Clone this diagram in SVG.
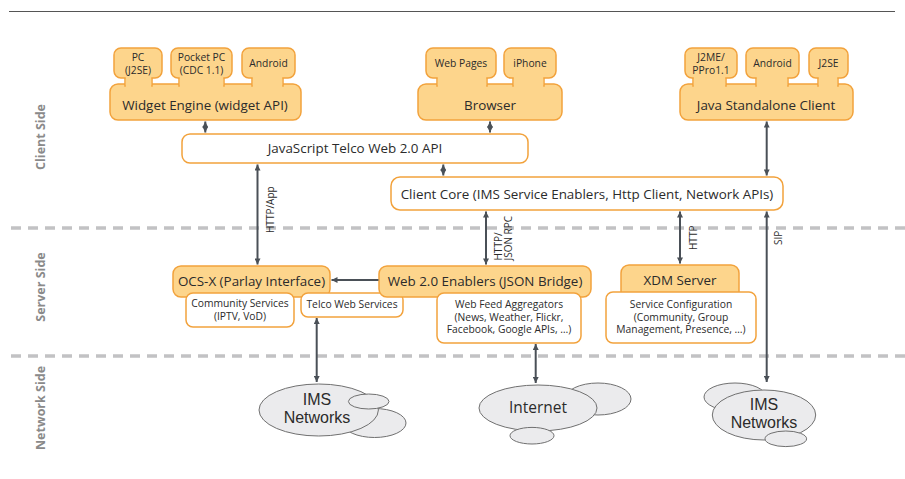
<svg xmlns="http://www.w3.org/2000/svg" width="905" height="479" viewBox="0 0 905 479">
<defs>
<style>
.o{fill:#fdd58c;stroke:#f2a23c;stroke-width:1.5}
.w{fill:#fff;stroke:#f2a23c;stroke-width:1.5}
.cov{fill:#fdd58c;stroke:none}
.c{fill:#ebebed;stroke:#707070;stroke-width:1}
.a{stroke:#4a5057;stroke-width:2;fill:none}
.dash{stroke:#c2c2c4;stroke-width:3.5;stroke-dasharray:10 7;fill:none}
text{font-family:"Open Sans","Liberation Sans",sans-serif;fill:#2b2b2b;text-anchor:middle}
.m{font-size:13.4px}
.s{font-size:10.3px}
.l{font-size:10px;text-anchor:start}
.n{font-size:15.5px}
.n2{font-family:"Liberation Sans","Open Sans",sans-serif;font-size:16px}
.side{font-size:12.5px;font-weight:bold;fill:#8a8a8a}
</style>
<marker id="ah" viewBox="0 0 10 10" refX="10" refY="5" markerWidth="7" markerHeight="6" markerUnits="userSpaceOnUse" orient="auto-start-reverse">
<path d="M0,0 L10,5 L0,10 z" fill="#4a5057"/>
</marker>
</defs>

<g id="frame">
<line x1="9" y1="11.5" x2="895" y2="11.5" stroke="#555" stroke-width="1"/>
<line class="dash" x1="11" y1="228" x2="905" y2="228"/>
<line class="dash" x1="11" y1="356" x2="905" y2="356"/>
<text class="side" transform="translate(45,137) rotate(-90)">Client Side</text>
<text class="side" transform="translate(45,287) rotate(-90)">Server Side</text>
<text class="side" transform="translate(45,408) rotate(-90)">Network Side</text>
</g>

<g id="widget-engine">
<rect class="o" x="110" y="84" width="191" height="36" rx="8"/>
<path class="o" d="M121,48 H155 A7,7 0 0 1 162,55 V71 A7,7 0 0 1 155,78 H152 V86 H125 V78 H121 A7,7 0 0 1 114,71 V55 A7,7 0 0 1 121,48 Z"/>
<path class="o" d="M178,48 H225 A7,7 0 0 1 232,55 V71 A7,7 0 0 1 225,78 H224 V86 H179 V78 H178 A7,7 0 0 1 171,71 V55 A7,7 0 0 1 178,48 Z"/>
<path class="o" d="M249,48 H288 A7,7 0 0 1 295,55 V71 A7,7 0 0 1 288,78 H283 V86 H252 V78 H249 A7,7 0 0 1 242,71 V55 A7,7 0 0 1 249,48 Z"/>
<rect class="cov" x="125.8" y="79" width="25.4" height="9"/>
<rect class="cov" x="179.8" y="79" width="43.4" height="9"/>
<rect class="cov" x="252.8" y="79" width="29.4" height="9"/>
<text class="s" x="138" y="60.5">PC</text>
<text class="s" x="138" y="74">(J2SE)</text>
<text class="s" x="201.5" y="60.5">Pocket PC</text>
<text class="s" x="201.5" y="74">(CDC 1.1)</text>
<text class="s" x="268.5" y="67.3">Android</text>
<text class="m" x="205" y="110">Widget Engine (widget API)</text>
</g>

<g id="browser">
<rect class="o" x="418" y="84" width="144" height="36" rx="8"/>
<path class="o" d="M433,48 H489 A7,7 0 0 1 496,55 V71 A7,7 0 0 1 489,78 H487 V86 H437 V78 H433 A7,7 0 0 1 426,71 V55 A7,7 0 0 1 433,48 Z"/>
<path class="o" d="M511,48 H549 A7,7 0 0 1 556,55 V71 A7,7 0 0 1 549,78 H544 V86 H513 V78 H511 A7,7 0 0 1 504,71 V55 A7,7 0 0 1 511,48 Z"/>
<rect class="cov" x="437.8" y="79" width="48.4" height="9"/>
<rect class="cov" x="513.8" y="79" width="29.4" height="9"/>
<text class="s" x="461" y="67.3">Web Pages</text>
<text class="s" x="530" y="67.3">iPhone</text>
<text class="m" x="490" y="110">Browser</text>
</g>

<g id="java-client">
<rect class="o" x="680" y="84" width="173" height="36" rx="8"/>
<path class="o" d="M692,48 H730 A7,7 0 0 1 737,55 V71 A7,7 0 0 1 730,78 H726 V86 H693 V78 H692 A7,7 0 0 1 685,71 V55 A7,7 0 0 1 692,48 Z"/>
<path class="o" d="M753,48 H792 A7,7 0 0 1 799,55 V71 A7,7 0 0 1 792,78 H788 V86 H756 V78 H753 A7,7 0 0 1 746,71 V55 A7,7 0 0 1 753,48 Z"/>
<path class="o" d="M816,48 H841 A7,7 0 0 1 848,55 V71 A7,7 0 0 1 841,78 H838 V86 H818 V78 H816 A7,7 0 0 1 809,71 V55 A7,7 0 0 1 816,48 Z"/>
<rect class="cov" x="693.8" y="79" width="31.4" height="9"/>
<rect class="cov" x="756.8" y="79" width="30.4" height="9"/>
<rect class="cov" x="818.8" y="79" width="18.4" height="9"/>
<text class="s" x="711" y="60.5">J2ME/</text>
<text class="s" x="711" y="74">PPro1.1</text>
<text class="s" x="772.5" y="67.3">Android</text>
<text class="s" x="828.5" y="67.3">J2SE</text>
<text class="m" x="766" y="110">Java Standalone Client</text>
</g>

<g id="js-api">
<rect class="w" x="182" y="134" width="346" height="29" rx="8"/>
<text class="m" x="355" y="153">JavaScript Telco Web 2.0 API</text>
</g>

<g id="client-core">
<rect class="w" x="391" y="177" width="392" height="33" rx="9"/>
<text class="m" x="587" y="198.5">Client Core (IMS Service Enablers, Http Client, Network APIs)</text>
</g>

<g id="ocs-x">
<rect class="o" x="173" y="266" width="157" height="31" rx="8"/>
<text class="m" x="251.5" y="286">OCS-X (Parlay Interface)</text>
</g>

<g id="community-services">
<rect class="w" x="186" y="293" width="108" height="34" rx="7"/>
<text class="s" x="240" y="307">Community Services</text>
<text class="s" x="240" y="320">(IPTV, VoD)</text>
</g>

<g id="telco-web-services">
<rect class="w" x="301" y="293" width="102" height="24" rx="7"/>
<text class="s" x="352" y="308">Telco Web Services</text>
</g>

<g id="web20-enablers">
<rect class="o" x="379" y="266" width="212" height="31" rx="8"/>
<text class="m" x="485" y="286">Web 2.0 Enablers (JSON Bridge)</text>
</g>

<g id="web-feed-aggregators">
<rect class="w" x="437" y="293" width="144" height="50" rx="7"/>
<text class="s" x="509" y="308">Web Feed Aggregators</text>
<text class="s" x="509" y="320.5">(News, Weather, Flickr,</text>
<text class="s" x="509" y="333">Facebook, Google APIs, …)</text>
</g>

<g id="xdm-server">
<rect class="o" x="621" y="265" width="118" height="35" rx="8"/>
<text class="m" x="680" y="285">XDM Server</text>
</g>

<g id="service-configuration">
<rect class="w" x="606" y="292" width="150" height="51" rx="7"/>
<text class="s" x="681" y="307.5">Service Configuration</text>
<text class="s" x="681" y="320.5">(Community, Group</text>
<text class="s" x="681" y="333">Management, Presence, …)</text>
</g>

<g id="ims-networks-left">
<ellipse class="c" cx="374.5" cy="423" rx="31.5" ry="14.5"/>
<ellipse class="c" cx="318.7" cy="410" rx="59.7" ry="26"/>
<ellipse class="c" cx="368.7" cy="401.5" rx="20.3" ry="7.5"/>
<text class="n2" x="317" y="404.5">IMS</text>
<text class="n2" x="317" y="422.5">Networks</text>
</g>

<g id="internet">
<ellipse class="c" cx="598" cy="399" rx="33" ry="16"/>
<ellipse class="c" cx="538" cy="408" rx="59" ry="23"/>
<ellipse class="c" cx="532" cy="435.7" rx="22" ry="8.3"/>
<text class="n" x="538" y="413">Internet</text>
</g>

<g id="ims-networks-right">
<ellipse class="c" cx="735" cy="397" rx="31" ry="14"/>
<ellipse class="c" cx="764" cy="415" rx="51.7" ry="25"/>
<ellipse class="c" cx="785.8" cy="438.8" rx="20.8" ry="7.8"/>
<text class="n2" x="764" y="410">IMS</text>
<text class="n2" x="764" y="428">Networks</text>
</g>

<g id="connectors">
<line class="a" x1="205.3" y1="121.5" x2="205.3" y2="132.5" marker-start="url(#ah)" marker-end="url(#ah)"/>
<line class="a" x1="490" y1="121.5" x2="490" y2="132.5" marker-start="url(#ah)" marker-end="url(#ah)"/>
<line class="a" x1="443.3" y1="164.5" x2="443.3" y2="175.5" marker-start="url(#ah)" marker-end="url(#ah)"/>
<line class="a" x1="766.7" y1="121.5" x2="766.7" y2="175.5" marker-start="url(#ah)" marker-end="url(#ah)"/>
<line class="a" x1="257.5" y1="164.5" x2="257.5" y2="264.5" marker-start="url(#ah)" marker-end="url(#ah)"/>
<line class="a" x1="486" y1="211.5" x2="486" y2="264.5" marker-start="url(#ah)" marker-end="url(#ah)"/>
<line class="a" x1="680" y1="211.5" x2="680" y2="263.5" marker-start="url(#ah)" marker-end="url(#ah)"/>
<line class="a" x1="766.7" y1="211.5" x2="766.7" y2="382" marker-start="url(#ah)" marker-end="url(#ah)"/>
<line class="a" x1="378.5" y1="280" x2="331.5" y2="280" marker-end="url(#ah)"/>
<line class="a" x1="316.7" y1="318" x2="316.7" y2="382" marker-start="url(#ah)" marker-end="url(#ah)"/>
<line class="a" x1="535.7" y1="344" x2="535.7" y2="383" marker-start="url(#ah)" marker-end="url(#ah)"/>
<text class="l" transform="translate(274,233) rotate(-90)">HTTP/App</text>
<text class="l" transform="translate(502,260.5) rotate(-90)">HTTP/<tspan x="0" y="10">JSON RPC</tspan></text>
<text class="l" transform="translate(697.3,250) rotate(-90)">HTTP</text>
<text class="l" transform="translate(781.7,245) rotate(-90)">SIP</text>
</g>
</svg>
